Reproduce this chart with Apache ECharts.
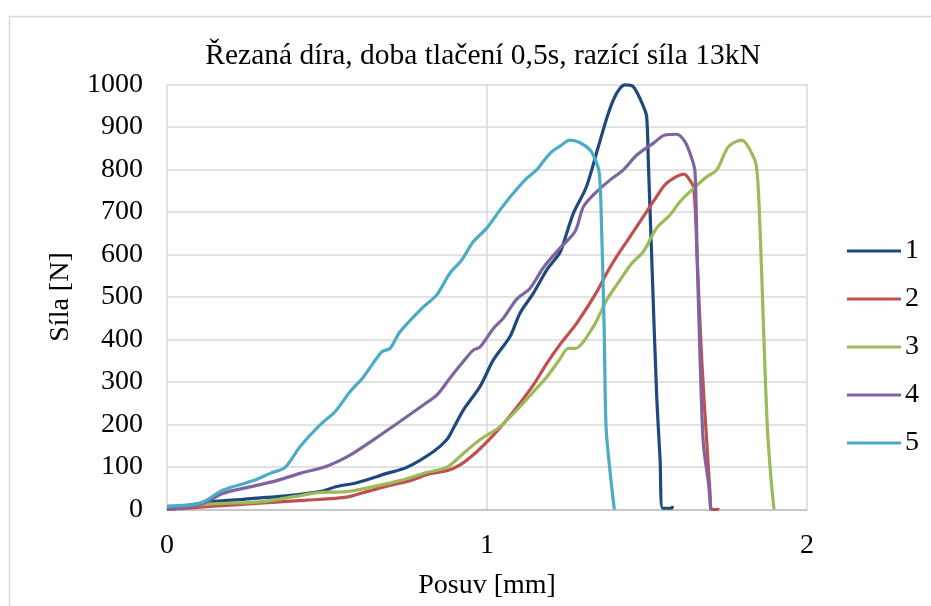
<!DOCTYPE html>
<html>
<head>
<meta charset="utf-8">
<script src="https://cdn.jsdelivr.net/npm/echarts@6/dist/echarts.min.js"></script>
<style>html,body{margin:0;padding:0;background:#fff;}#c{width:931px;height:606px;}</style>
</head>
<body>
<div id="c"></div>
<script>
const titleText = 'Řezaná díra, doba tlačení 0,5s, razící síla 13kN';
const xName = 'Posuv [mm]';
const yName = 'Síla [N]';
const seriesNames = ['1', '2', '3', '4', '5'];
const seriesColors = ['#1F497D', '#C0504D', '#9BBB59', '#8064A2', '#4BACC6'];

const s1 = [[0,0],[0.134,18],[0.238,24],[0.395,34],[0.478,42],[0.53,54],[0.593,63],[0.687,85],[0.749,99],[0.832,136],[0.874,164],[0.895,191],[0.926,234],[0.978,289],[1.02,352],[1.072,407],[1.103,462],[1.145,509],[1.187,564],[1.228,605],[1.249,650],[1.27,697],[1.311,760],[1.348,854],[1.379,932],[1.405,979],[1.431,999],[1.457,995],[1.489,948],[1.499,924],[1.504,822],[1.515,587],[1.53,273],[1.541,116],[1.549,3],[1.577,3],[1.58,8]];
const s2 = [[0,0],[0.134,7],[0.29,15],[0.437,22],[0.562,29],[0.624,42],[0.687,55],[0.759,68],[0.822,84],[0.874,91],[0.916,105],[0.968,136],[1.02,175],[1.062,211],[1.103,250],[1.145,293],[1.187,344],[1.228,388],[1.28,438],[1.343,512],[1.374,556],[1.405,595],[1.447,642],[1.499,701],[1.53,736],[1.556,764],[1.592,783],[1.616,789],[1.63,779],[1.646,756],[1.657,587],[1.671,352],[1.687,156],[1.697,38],[1.702,0],[1.72,0],[1.723,4]];
const s3 = [[0,0],[0.134,13],[0.29,18],[0.426,34],[0.478,40],[0.562,42],[0.645,54],[0.728,68],[0.811,87],[0.874,99],[0.926,132],[0.978,164],[1.041,195],[1.103,242],[1.145,277],[1.187,312],[1.228,354],[1.254,379],[1.275,379],[1.332,430],[1.374,493],[1.416,540],[1.452,579],[1.489,607],[1.53,662],[1.572,693],[1.603,724],[1.646,756],[1.687,783],[1.718,799],[1.755,854],[1.796,869],[1.822,846],[1.842,807],[1.853,665],[1.864,430],[1.876,195],[1.887,77],[1.897,0]];
const s4 = [[0,0],[0.103,11],[0.176,38],[0.27,55],[0.343,68],[0.416,85],[0.499,102],[0.572,128],[0.645,164],[0.728,207],[0.801,246],[0.843,269],[0.884,309],[0.926,348],[0.957,375],[0.978,382],[1.02,426],[1.051,450],[1.093,495],[1.134,520],[1.176,569],[1.228,615],[1.275,654],[1.301,712],[1.332,740],[1.384,775],[1.426,799],[1.468,834],[1.52,862],[1.556,881],[1.592,883],[1.619,865],[1.64,826],[1.65,795],[1.657,587],[1.666,352],[1.676,156],[1.692,62],[1.699,0]];
const s5 = [[0,8],[0.103,15],[0.176,46],[0.27,68],[0.322,85],[0.369,99],[0.416,148],[0.478,199],[0.525,230],[0.572,277],[0.614,312],[0.671,371],[0.697,379],[0.728,418],[0.796,473],[0.843,505],[0.884,556],[0.921,587],[0.957,630],[0.999,662],[1.041,705],[1.082,744],[1.124,779],[1.155,799],[1.197,838],[1.228,855],[1.259,869],[1.291,863],[1.322,846],[1.337,826],[1.351,791],[1.358,665],[1.366,430],[1.372,195],[1.384,93],[1.398,0]];
const seriesData = [s1, s2, s3, s4, s5];

const FONT = '"Liberation Serif", "Times New Roman", serif';
const chart = echarts.init(document.getElementById('c'), null, {renderer: 'canvas'});
chart.setOption({
  animation: false,
  backgroundColor: '#fff',
  graphic: [{
    type: 'rect', left: 7, top: 14, z: -10,
    shape: {x: 0, y: 0, width: 1000, height: 1000},
    style: {fill: 'none', stroke: '#D9D9D9', lineWidth: 1.5}
  }],
  title: {
    text: titleText, left: 478, top: 37, textAlign: 'center',
    textStyle: {fontFamily: FONT, fontSize: 29.5, fontWeight: 'normal', color: '#000', lineHeight: 29}
  },
  legend: {
    orient: 'vertical', left: 842, top: 232, itemWidth: 54, itemHeight: 3, itemGap: 20,
    icon: 'rect',
    data: seriesNames,
    textStyle: {fontFamily: FONT, fontSize: 28, color: '#000', lineHeight: 28, padding: [0,0,0,-1]}
  },
  grid: {left: 167, top: 84.5, right: 124, bottom: 96.5, containLabel: false},
  xAxis: {
    type: 'value', min: 0, max: 2, interval: 1,
    name: xName, nameLocation: 'middle', nameGap: 62,
    nameTextStyle: {fontFamily: FONT, fontSize: 28, color: '#000', lineHeight: 28},
    axisLine: {show: true, lineStyle: {color: '#BFBFBF', width: 1.5}},
    axisTick: {show: false},
    axisLabel: {fontFamily: FONT, fontSize: 28, color: '#000', margin: 22, lineHeight: 28, formatter: v => String(v)},
    splitLine: {show: true, lineStyle: {color: '#D9D9D9', width: 1.5}}
  },
  yAxis: {
    type: 'value', min: 0, max: 1000, interval: 100,
    name: yName, nameLocation: 'middle', nameGap: 92,
    nameTextStyle: {fontFamily: FONT, fontSize: 28, color: '#000', lineHeight: 28},
    axisLine: {show: false},
    axisTick: {show: false},
    axisLabel: {fontFamily: FONT, fontSize: 28, color: '#000', margin: 24, formatter: v => String(v)},
    splitLine: {show: true, lineStyle: {color: '#D9D9D9', width: 1.5}}
  },
  series: seriesData.map((d, i) => ({
    name: seriesNames[i], type: 'line', data: d, showSymbol: false, symbol: 'none',
    smooth: 0.3,
    lineStyle: {color: seriesColors[i], width: 3.2},
    itemStyle: {color: seriesColors[i]}
  }))
});
</script>
</body>
</html>
